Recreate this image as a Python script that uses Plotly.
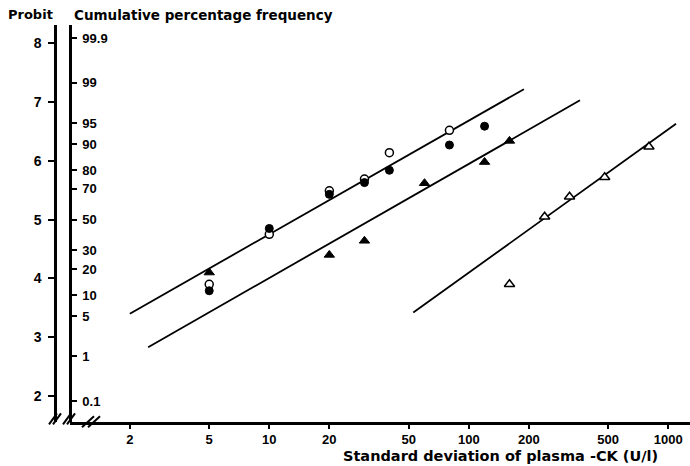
import plotly.graph_objects as go
from statistics import NormalDist

# ---- data (x = SD of plasma CK, U/l ; y = probit) ----
open_circle_x = [5, 10, 20, 30, 40, 80]
open_circle_y = [3.90, 4.75, 5.49, 5.69, 6.14, 6.52]

filled_circle_x = [5, 10, 20, 30, 40, 80, 120]
filled_circle_y = [3.79, 4.85, 5.43, 5.63, 5.84, 6.27, 6.59]

filled_triangle_x = [5, 20, 30, 60, 120, 160]
filled_triangle_y = [4.10, 4.40, 4.64, 5.62, 5.98, 6.34]

open_triangle_x = [160, 240, 320, 480, 800]
open_triangle_y = [3.90, 5.05, 5.39, 5.72, 6.24]

# fitted lines (end points)
line1_x = [2.0, 189]
line1_y = [3.40, 7.22]
line2_x = [2.47, 361]
line2_y = [2.83, 7.03]
line3_x = [52.7, 1094]
line3_y = [3.42, 6.63]

probit_ticks = [2, 3, 4, 5, 6, 7, 8]
cum_pct_labels = ["0.1", "1", "5", "10", "20", "30", "50", "70", "80", "90", "95", "99", "99.9"]
cum_pct_values = [0.1, 1, 5, 10, 20, 30, 50, 70, 80, 90, 95, 99, 99.9]
x_tick_vals = [2, 5, 10, 20, 50, 100, 200, 500, 1000]

# probit of cumulative percentage (inverse normal + 5)
cum_probits = [5 + NormalDist().inv_cdf(p / 100.0) for p in cum_pct_values]

W, H = 690, 466
TOP, BOT = 25, 421.7
TICKFAM = "Liberation Sans, Arial, sans-serif"
TITLEFAM = "DejaVu Sans, sans-serif"

fig = go.Figure()

for lx, ly in [(line1_x, line1_y), (line2_x, line2_y), (line3_x, line3_y)]:
    fig.add_trace(go.Scatter(x=lx, y=ly, mode="lines",
                             line=dict(color="black", width=1.8),
                             showlegend=False, hoverinfo="skip"))

fig.add_trace(go.Scatter(x=open_circle_x, y=open_circle_y, mode="markers",
                         marker=dict(symbol="circle", size=8, color="white",
                                     line=dict(color="black", width=1.5)),
                         showlegend=False))
fig.add_trace(go.Scatter(x=filled_circle_x, y=filled_circle_y, mode="markers",
                         marker=dict(symbol="circle", size=8, color="black",
                                     line=dict(color="black", width=1)),
                         showlegend=False))
fig.add_trace(go.Scatter(x=filled_triangle_x, y=filled_triangle_y, mode="markers",
                         marker=dict(symbol="triangle-up", size=9, color="black",
                                     line=dict(color="black", width=1)),
                         showlegend=False))
fig.add_trace(go.Scatter(x=open_triangle_x, y=open_triangle_y, mode="markers",
                         marker=dict(symbol="triangle-up", size=9, color="white",
                                     line=dict(color="black", width=1.5)),
                         showlegend=False))

# invisible trace to activate the cumulative-percentage axis
fig.add_trace(go.Scatter(x=[10], y=[5], yaxis="y2", mode="markers",
                         marker=dict(opacity=0), showlegend=False, hoverinfo="skip"))

yrange = [5 - (BOT - 219.5) / 58.73, 5 + (219.5 - TOP) / 58.73]

fig.update_layout(
    width=W, height=H,
    margin=dict(l=0, r=0, t=TOP, b=H - BOT),
    paper_bgcolor="white", plot_bgcolor="white",
    font=dict(family=TICKFAM, size=13, color="black"),
    xaxis=dict(type="log", range=[0.001, 3.109], domain=[70 / W, 1],
               tickvals=x_tick_vals, ticktext=[str(v) for v in x_tick_vals],
               ticks="outside", ticklen=4, tickwidth=1.5, tickcolor="black",
               showline=True, linecolor="black", linewidth=2.5,
               showgrid=False, zeroline=False,
               tickfont=dict(family=TICKFAM, size=13, color="black", weight="bold")),
    yaxis=dict(range=yrange, anchor="free", position=55 / W, side="left",
               tickvals=probit_ticks, ticktext=[str(v) for v in probit_ticks],
               ticks="outside", ticklen=6, tickwidth=1.5, tickcolor="black",
               showline=True, linecolor="black", linewidth=2.5,
               showgrid=False, zeroline=False, ticklabelstandoff=4,
               tickfont=dict(family=TICKFAM, size=14, color="black", weight="bold")),
    yaxis2=dict(range=yrange, overlaying="y", anchor="free", position=70 / W, side="right",
                tickvals=cum_probits, ticktext=cum_pct_labels,
                ticks="outside", ticklen=5, tickwidth=1.5, tickcolor="black",
                showline=True, linecolor="black", linewidth=2.5,
                showgrid=False, zeroline=False, ticklabelstandoff=3,
                tickfont=dict(family=TICKFAM, size=13, color="black", weight="bold")),
)

def px(x):
    return x / W

def py(y):
    return (BOT - y) / (BOT - TOP)

annos = [
    dict(text="Probit", x=px(6), y=py(15), xanchor="left", yanchor="middle", size=13),
    dict(text="Cumulative percentage frequency", x=px(72), y=py(15), xanchor="left", yanchor="middle", size=13.5),
    dict(text="Standard deviation of plasma -CK (U/l)", x=px(500), y=py(456), xanchor="center", yanchor="middle", size=14.5),
]
for a in annos:
    s = a.pop("size")
    fig.add_annotation(xref="paper", yref="paper", showarrow=False,
                       font=dict(family=TITLEFAM, size=s, color="black", weight="bold"), **a)

# axis break marks
breaks = [
    (49, 424, 57, 413), (53, 424, 61, 413),
    (63, 424, 71, 413), (67, 424, 75, 413),
    (82, 427, 94, 416), (88, 427, 100, 416),
]
for x0, y0, x1, y1 in breaks:
    fig.add_shape(type="line", xref="paper", yref="paper",
                  x0=px(x0), y0=py(y0), x1=px(x1), y1=py(y1),
                  line=dict(color="black", width=2))

fig.write_html("out.html", config={"displayModeBar": False},
               post_script="document.body.style.margin='0px';")
